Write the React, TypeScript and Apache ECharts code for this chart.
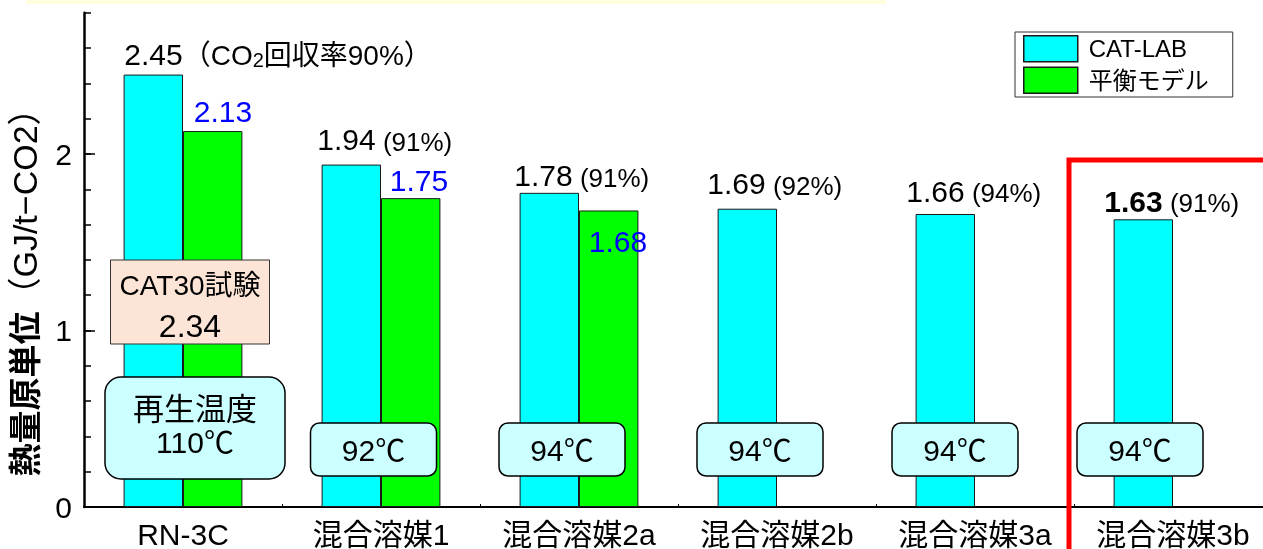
import React, { useEffect, useRef } from "react";
import * as echarts from "echarts";

const categories = ["RN-3C", "混合溶媒1", "混合溶媒2a", "混合溶媒2b", "混合溶媒3a", "混合溶媒3b"];
const catLab = [2.45, 1.94, 1.78, 1.69, 1.66, 1.63];
const equilibrium: (number | null)[] = [2.13, 1.75, 1.68, null, null, null];
const recoveryRate = [90, 91, 91, 92, 94, 91];
const regenTemps = ["110℃", "92℃", "94℃", "94℃", "94℃", "94℃"];
const cat30Value = "2.34";
const yLabelValues = [0, 1, 2];
const yMajorTickValues = [1, 2];

const FONT = '"Liberation Sans", Arial, "Noto Sans CJK JP", sans-serif';

// label placement tweaks (px)
const cyanDx = [-29, -34, -35, -40, -39, -39];
const cyanDy = [-5, -10, -2, -10, -8, -3];
const greenDx = [-19, -21, -20];
const greenDy = [-5, -3, 46];
const tempBoxDx = [12, -7.5, -17, -17, -20, -33];

export default function App() {
  const ref = useRef<HTMLDivElement>(null);
  useEffect(() => {
    if (!ref.current) return;
    const chart = echarts.init(ref.current, null, { renderer: "svg" });
    const rich = {
      v: { fontSize: 30, fontFamily: FONT, color: "#000", verticalAlign: "bottom" },
      vb: { fontSize: 30, fontFamily: FONT, color: "#000", fontWeight: "bold", verticalAlign: "bottom" },
      p: { fontSize: 26, fontFamily: FONT, color: "#000", verticalAlign: "bottom" },
      p2: { fontSize: 28, fontFamily: FONT, color: "#000", verticalAlign: "bottom" },
      s: { fontSize: 20, fontFamily: FONT, color: "#000", lineHeight: 6, verticalAlign: "bottom" },
      bl: { fontSize: 30, fontFamily: FONT, color: "#0000FF", verticalAlign: "bottom" },
    };
    const option: any = {
      animation: false,
      grid: { left: 84, top: 12.8, width: 1188, height: 494.2, outerBoundsMode: "none", containLabel: false },
      legend: {
        orient: "vertical",
        left: 1015,
        top: 32,
        icon: "rect",
        itemWidth: 54,
        itemHeight: 26,
        itemGap: 4,
        padding: [3, 24, 3, 8],
        borderColor: "#333",
        borderWidth: 1,
        backgroundColor: "#fff",
        textStyle: { fontSize: 24, color: "#000", fontFamily: FONT, padding: [0, 0, 0, 6] },
        itemStyle: { borderColor: "#1a1a1a", borderWidth: 1.5 },
      },
      xAxis: {
        type: "category",
        data: categories,
        axisLine: { lineStyle: { color: "#000", width: 2 } },
        axisTick: { show: true, inside: true, length: 3, lineStyle: { color: "#000", width: 1 } },
        axisLabel: { fontSize: 30, color: "#000", fontFamily: FONT, margin: 12, interval: 0 },
        splitLine: { show: false },
      },
      yAxis: [
        {
          type: "value",
          min: 0,
          max: 2.8,
          interval: 0.2,
          axisLine: { show: true, lineStyle: { color: "#000", width: 2.5 } },
          axisTick: { show: true, inside: true, length: 7, lineStyle: { color: "#000", width: 1.5 } },
          axisLabel: { customValues: yLabelValues, fontSize: 30, color: "#000", fontFamily: FONT, margin: 12 },
          splitLine: { show: false },
        },
        {
          type: "value",
          min: 0,
          max: 2.8,
          position: "left",
          axisLine: { show: false },
          axisTick: { show: true, inside: true, length: 11, customValues: yMajorTickValues, lineStyle: { color: "#000", width: 1.5 } },
          axisLabel: { show: false },
          splitLine: { show: false },
        },
      ],
      series: [
        {
          name: "CAT-LAB",
          type: "bar",
          yAxisIndex: 0,
          barWidth: 59.4,
          barGap: "0%",
          itemStyle: { color: "#00FFFF", borderColor: "#1a1a1a", borderWidth: 1 },
          data: catLab.map((v, i) => ({ value: v, label: { offset: [cyanDx[i], cyanDy[i]] } })),
          label: {
            show: true,
            position: "top",
            distance: 0,
            align: "left",
            verticalAlign: "bottom",
            rich,
            formatter: (p: any) => {
              const i = p.dataIndex;
              const val = catLab[i].toFixed(2);
              if (i === 0) return `{v|${val}}{p2|（CO}{s|2}{p2|回収率${recoveryRate[i]}%）}`;
              const key = i === catLab.length - 1 ? "vb" : "v";
              return `{${key}|${val}}{p| (${recoveryRate[i]}%)}`;
            },
          },
        },
        {
          name: "平衡モデル",
          type: "bar",
          yAxisIndex: 0,
          barWidth: 59.4,
          barGap: "0%",
          itemStyle: { color: "#00FF00", borderColor: "#1a1a1a", borderWidth: 1 },
          data: equilibrium.map((v, i) =>
            v === null ? "-" : { value: v, label: { offset: [greenDx[i], greenDy[i]] } }
          ),
          label: {
            show: true,
            position: "top",
            distance: 0,
            align: "left",
            verticalAlign: "bottom",
            rich,
            formatter: (p: any) => `{bl|${Number(p.value).toFixed(2)}}`,
          },
        },
      ],
    };
    chart.setOption(option);

    const cx = (i: number) => chart.convertToPixel({ xAxisIndex: 0 }, categories[i]) as number;
    const y0 = chart.convertToPixel({ yAxisIndex: 0 }, 0) as number;
    const graphics: any[] = [];
    const Z = 10;
    graphics.push({
      type: "rect",
      z: Z,
      shape: { x: 26, y: 0, width: 860, height: 4 },
      style: { fill: "#FFFFE0" },
    });
    graphics.push({
      type: "text",
      z: Z,
      x: 25,
      y: 284,
      rotation: Math.PI / 2,
      style: {
        text: "{a|熱量原単位}{b|（GJ/t−CO2）}",
        align: "center",
        verticalAlign: "middle",
        rich: {
          a: { fontSize: 33, fontWeight: "bold", fontFamily: FONT, fill: "#000" },
          b: { fontSize: 34, fontFamily: FONT, fill: "#000" },
        },
      },
    });
    // CAT30 box
    const c0 = cx(0);
    graphics.push({
      type: "rect",
      z: Z,
      shape: { x: c0 + 7 - 79.5, y: y0 - 247, width: 159, height: 84 },
      style: { fill: "#FCE4D6", stroke: "#333", lineWidth: 1 },
    });
    graphics.push({
      type: "text",
      z: Z + 1,
      x: c0 + 7,
      y: y0 - 222,
      style: { text: "CAT30試験", font: `28px ${FONT}`, fill: "#000", align: "center", verticalAlign: "middle" },
    });
    graphics.push({
      type: "text",
      z: Z + 1,
      x: c0 + 7,
      y: y0 - 181,
      style: { text: cat30Value, font: `32px ${FONT}`, fill: "#000", align: "center", verticalAlign: "middle" },
    });
    // regen temp big box
    graphics.push({
      type: "rect",
      z: Z,
      shape: { x: c0 + tempBoxDx[0] - 90, y: y0 - 130, width: 180, height: 102, r: 16 },
      style: { fill: "#CCFFFF", stroke: "#000", lineWidth: 1.5 },
    });
    graphics.push({
      type: "text",
      z: Z + 1,
      x: c0 + tempBoxDx[0],
      y: y0 - 98,
      style: { text: "再生温度", font: `31px ${FONT}`, fill: "#000", align: "center", verticalAlign: "middle" },
    });
    graphics.push({
      type: "text",
      z: Z + 1,
      x: c0 + tempBoxDx[0],
      y: y0 - 65,
      style: { text: regenTemps[0], font: `30px ${FONT}`, fill: "#000", align: "center", verticalAlign: "middle" },
    });
    for (let i = 1; i < categories.length; i++) {
      const c = cx(i) + tempBoxDx[i];
      graphics.push({
        type: "rect",
        z: Z,
        shape: { x: c - 63, y: y0 - 84, width: 126, height: 53, r: 9 },
        style: { fill: "#CCFFFF", stroke: "#000", lineWidth: 1.5 },
      });
      graphics.push({
        type: "text",
        z: Z + 1,
        x: c,
        y: y0 - 57,
        style: { text: regenTemps[i], font: `30px ${FONT}`, fill: "#000", align: "center", verticalAlign: "middle" },
      });
    }
    // red frame
    const rx = cx(5) - 104;
    graphics.push({
      type: "polyline",
      z: 100,
      shape: { points: [[rx, 560], [rx, y0 - 347], [1280, y0 - 347]] },
      style: { stroke: "#FF0000", lineWidth: 5, fill: null },
    });
    chart.setOption({ graphic: graphics });

    return () => chart.dispose();
  }, []);
  return <div ref={ref} style={{ position: "fixed", left: 0, top: 0, width: 1263, height: 549 }} />;
}
